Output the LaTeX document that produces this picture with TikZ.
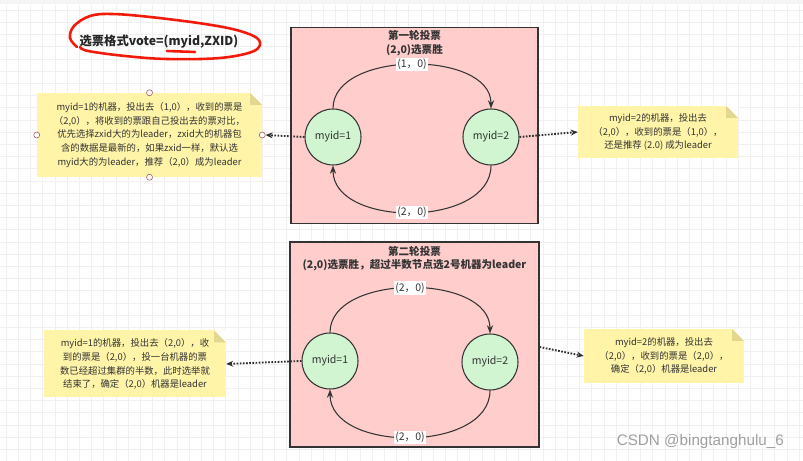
\documentclass[tikz,border=0pt]{standalone}
\usepackage{fontspec}
\setmainfont{Noto Sans CJK SC}
\newfontfamily\wmfont{Liberation Sans}
\usetikzlibrary{arrows.meta, positioning}
\definecolor{boxpink}{HTML}{FFCDCC}
\definecolor{nodegreen}{HTML}{D0F5D0}
\definecolor{notey}{HTML}{FFF4A8}
\definecolor{foldy}{HTML}{E3D68E}
\definecolor{inkgray}{HTML}{333333}
\definecolor{penred}{HTML}{F21A0A}

\begin{document}
\begin{tikzpicture}[x=0.03cm, y=-0.03cm,
    every node/.style={font=\fontsize{9}{11}\selectfont, text=inkgray},
    votebox/.style={rectangle, draw=inkgray, line width=0.9pt, fill=boxpink},
    boxtitle/.style={font=\fontsize{9}{11.6}\selectfont\bfseries, align=center, inner sep=1pt},
    machine/.style={circle, draw=inkgray, line width=0.9pt, fill=nodegreen, minimum size=1.68cm, inner sep=0pt},
    note/.style={rectangle, fill=notey, align=center, inner sep=0pt,
      font=\fontsize{8}{11.8}\selectfont,
      path picture={
        \fill[white] ([xshift=-0.36cm]path picture bounding box.north east) -- (path picture bounding box.north east)
          -- ([yshift=-0.36cm]path picture bounding box.north east) -- cycle;
        \fill[foldy] ([xshift=-0.36cm]path picture bounding box.north east) -- ([xshift=-0.36cm,yshift=-0.36cm]path picture bounding box.north east)
          -- ([yshift=-0.36cm]path picture bounding box.north east) -- cycle;}},
    handle/.style={circle, draw=gray!70!red, fill=white, line width=0.5pt, minimum size=0.18cm, inner sep=0pt},
    lbl/.style={fill=white, inner sep=1pt},
    arrow/.style={->, line width=0.9pt, draw=inkgray, >=Stealth},
    dotarrow/.style={->, line width=1.6pt, draw=inkgray!90!black, dash pattern=on 1.4pt off 1.3pt, >={Stealth[length=6pt,width=5pt]}}]

\useasboundingbox (0,0) rectangle (803,461);

% Canvas grid
\fill[white] (0,0) rectangle (803,461);
\foreach \gx in {6,18.2,...,803} \draw[gray!12, line width=0.3pt] (\gx,5) -- (\gx,461);
\foreach \gy in {10,22.2,...,461} \draw[gray!12, line width=0.3pt] (0,\gy) -- (803,\gy);
\fill[gray!8] (0,0) rectangle (803,4);

% Vote format title
\node[font=\fontsize{10.5}{12}\selectfont\bfseries, text=black!85] (fmt) at (159,42) {选票格式vote=(myid,ZXID)};
\draw[penred, line width=2.2pt, line cap=round] plot[smooth, tension=0.6] coordinates {(77,47) (70,38) (74,26) (90,16) (112,14) (150,17) (205,24) (240,31) (259,40) (254,51) (220,58) (167,59) (125,56) (88,51) (80,47)};
\draw[penred, line width=2.2pt, line cap=round] (167,51) -- (195,52);

% Round one
\node[votebox, minimum width=7.41cm, minimum height=5.88cm] (round1) at (414.5,125.5) {};
\node[boxtitle, below=0.06cm of round1.north] (title1) {第一轮投票\\(2,0)选票胜};
\node[machine] (a1) at (333,137) {myid=1};
\node[machine] (a2) at (491,137) {myid=2};
\draw[arrow] (a1.north) .. controls (333,50) and (491,50) .. node[lbl, midway] {(1，0)} (a2.north);
\draw[arrow] (a2.south) .. controls (491,228) and (333,228) .. node[lbl, midway] {(2，0)} (a1.south);

\node[note, minimum width=6.75cm, minimum height=2.52cm] (n1l) at (149.5,135) {myid=1的机器，投出去（1,0），收到的票是\\（2,0），将收到的票跟自己投出去的票对比，\\优先选择zxid大的为leader，zxid大的机器包\\含的数据是最新的，如果zxid一样，默认选\\myid大的为leader，推荐（2,0）成为leader};
\node[handle] at (n1l.north) {};
\node[handle] at (n1l.south) {};
\node[handle] at (n1l.west) {};
\node[handle] (h1) at (n1l.east) {};
\node[note, minimum width=4.8cm, minimum height=1.56cm] (n1r) at (658,132) {myid=2的机器，投出去\\（2,0），收到的票是（1,0），\\还是推荐 (2.0) 成为leader};
\draw[dotarrow] (a1.west) -- (h1.east);
\draw[dotarrow] (a2.east) -- (n1r.west);

% Round two
\node[votebox, minimum width=7.47cm, minimum height=6.15cm] (round2) at (414.5,344.5) {};
\node[boxtitle, below=0.1cm of round2.north] (title2) {第二轮投票\\(2,0)选票胜，超过半数节点选2号机器为leader};
\node[machine] (b1) at (330,361) {myid=1};
\node[machine] (b2) at (490,362) {myid=2};
\draw[arrow] (b1.north) .. controls (330,273) and (490,273) .. node[lbl, midway] {(2，0)} (b2.north);
\draw[arrow] (b2.south) .. controls (490,453) and (330,453) .. node[lbl, midway] {(2，0)} (b1.south);

\node[note, minimum width=5.46cm, minimum height=2.01cm] (n2l) at (135,364) {myid=1的机器，投出去（2,0），收\\到的票是（2,0），投一台机器的票\\数已经超过集群的半数，此时选举就\\结束了，确定（2,0）机器是leader};
\node[note, minimum width=4.8cm, minimum height=1.62cm] (n2r) at (664,356) {myid=2的机器，投出去\\（2,0），收到的票是（2,0），\\确定（2,0）机器是leader};
\draw[dotarrow] (b1.west) -- (n2l.east);
\draw[dotarrow] (round2.east |- 0,347) -- (n2r.west);

% Watermark
\node[font=\wmfont\fontsize{13}{14}\selectfont, text=gray!75, anchor=east] (wm) at (788,442) {CSDN @bingtanghulu\_6};

\end{tikzpicture}
\end{document}
